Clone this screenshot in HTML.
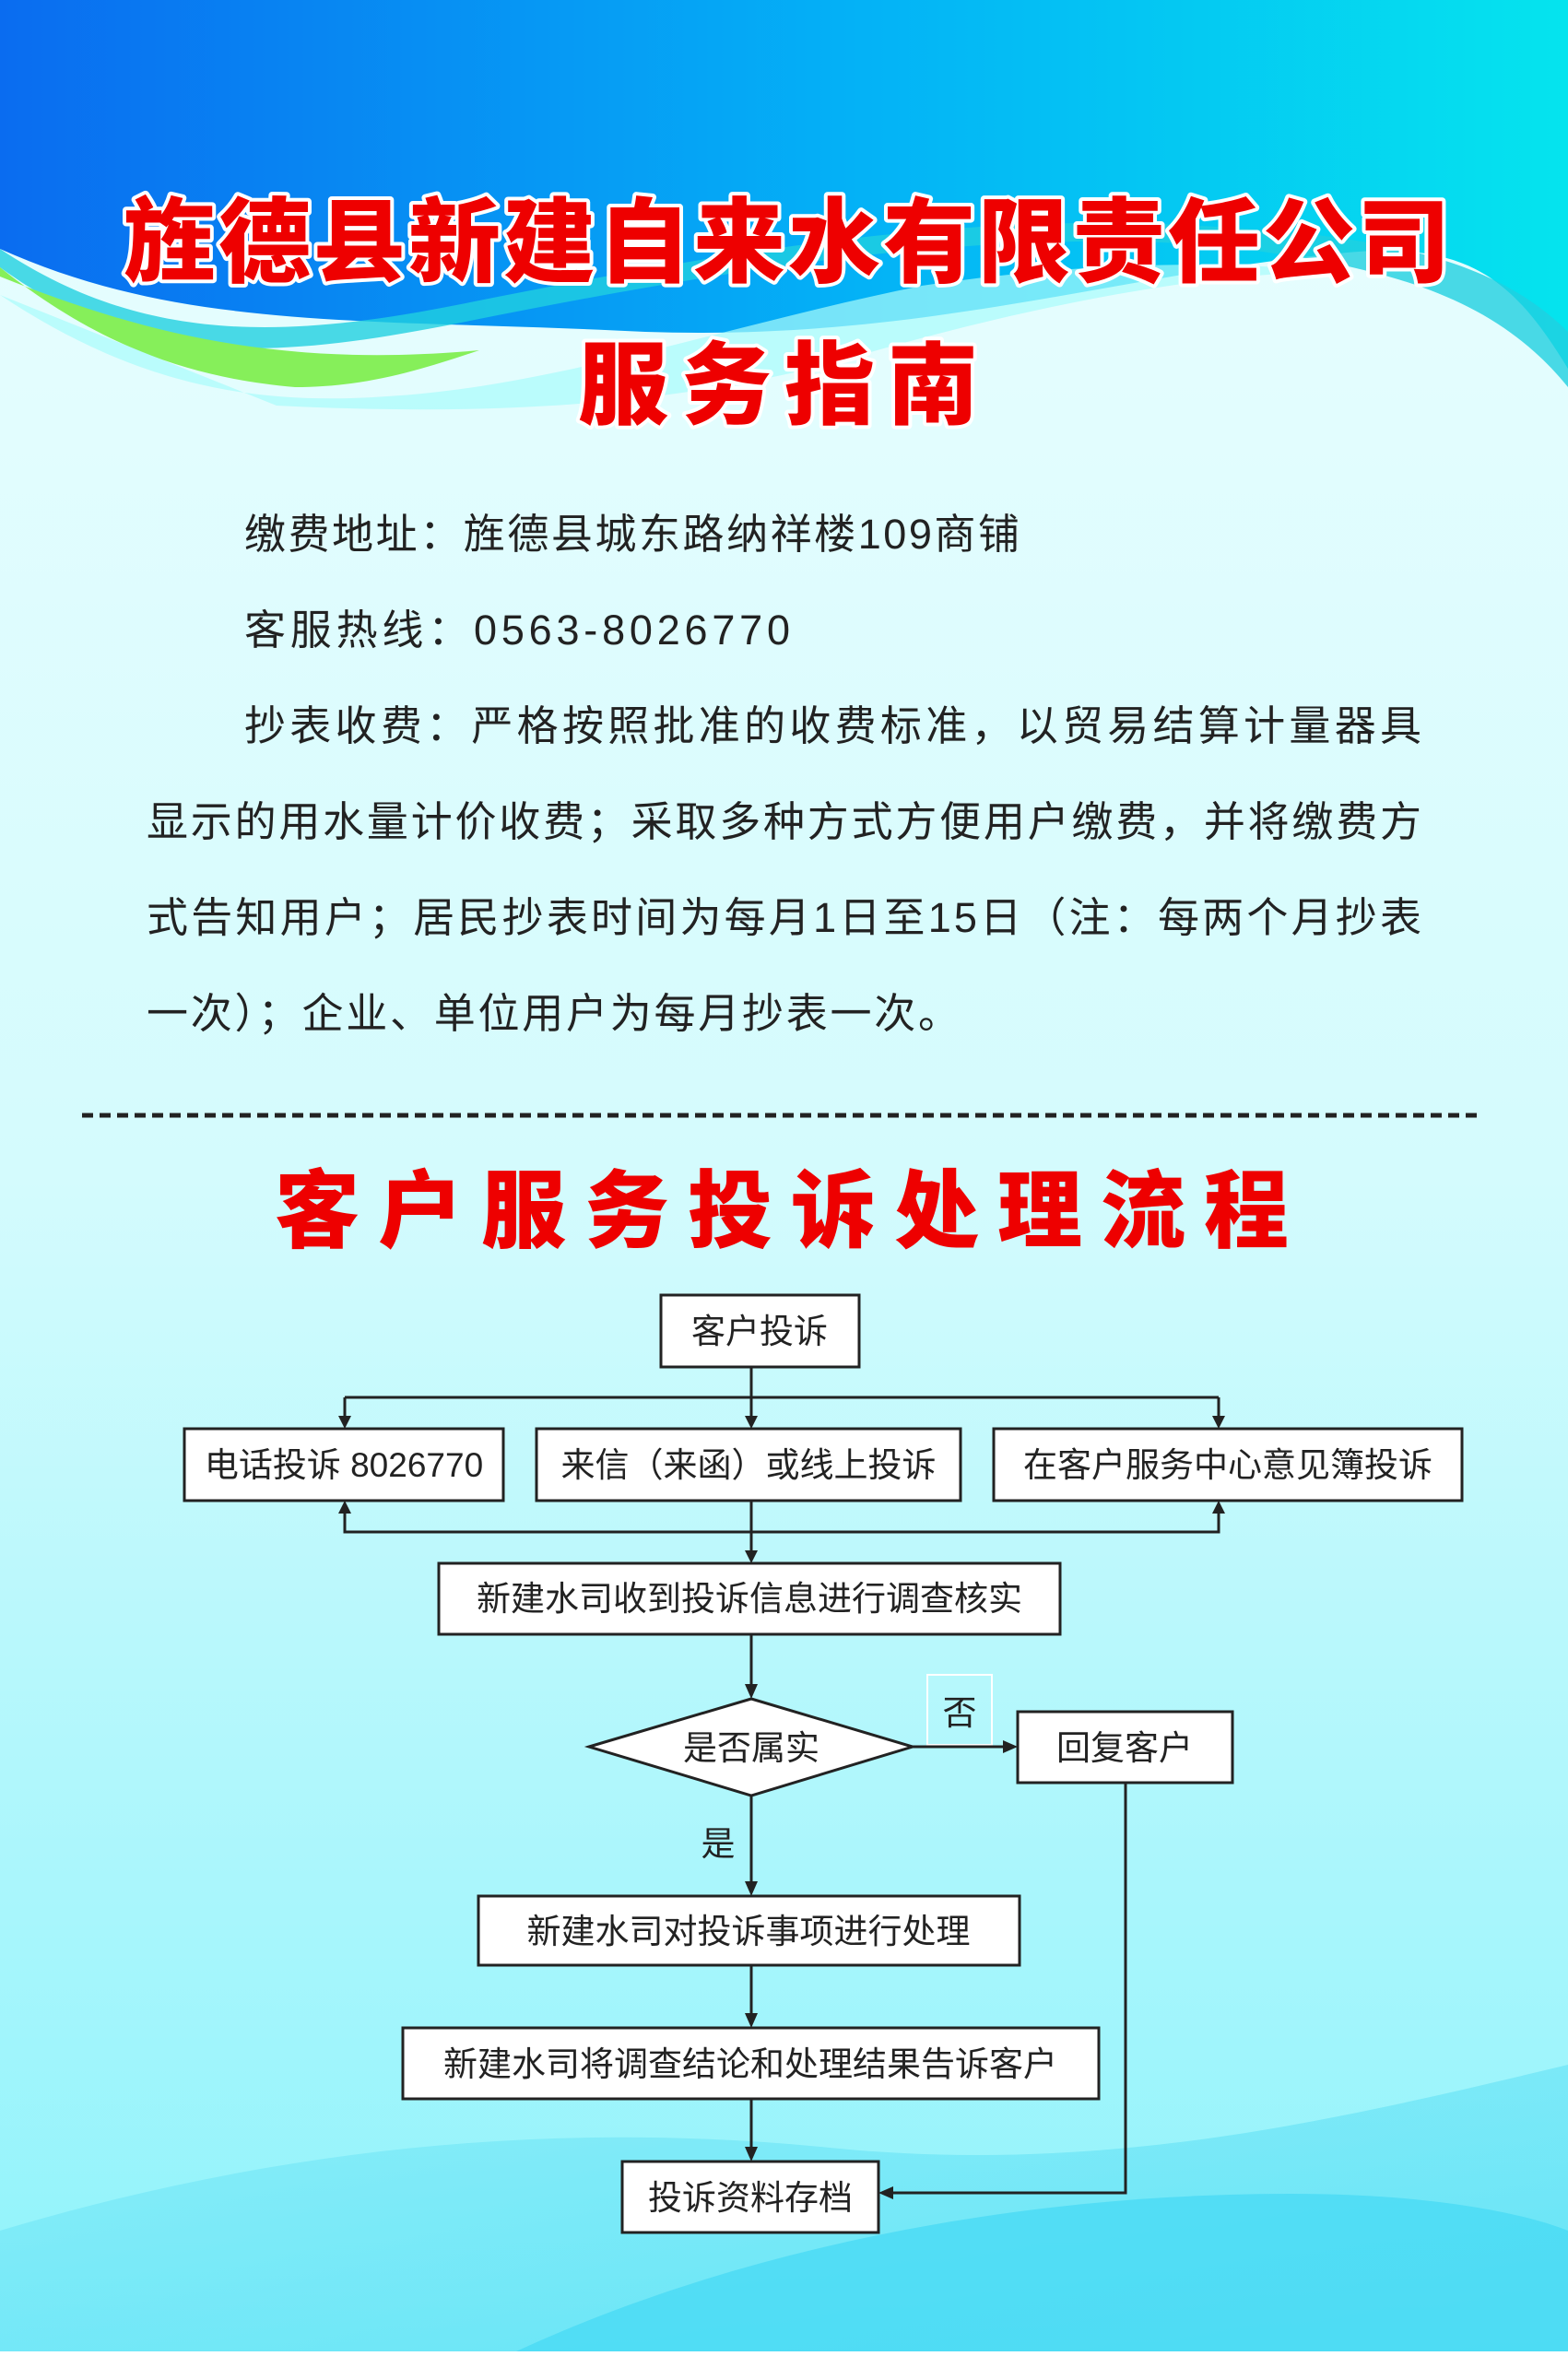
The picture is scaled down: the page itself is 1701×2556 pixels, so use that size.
<!DOCTYPE html>
<html><head><meta charset="utf-8"><style>
html,body{margin:0;padding:0}
body{width:1701px;height:2551px;overflow:hidden}
svg text{font-family:"Liberation Sans","Noto Sans CJK SC",sans-serif}
</style></head><body>
<svg width="1701" height="2551" viewBox="0 0 1701 2551" xmlns="http://www.w3.org/2000/svg">
<defs>
<linearGradient id="bg" x1="0" y1="0" x2="0" y2="1">
<stop offset="0" stop-color="#eafefe"/><stop offset="0.5" stop-color="#d4fbfd"/><stop offset="1" stop-color="#8ef3fb"/>
</linearGradient>
<linearGradient id="top" x1="0" y1="0" x2="1" y2="0">
<stop offset="0" stop-color="#0a6cf0"/><stop offset="0.55" stop-color="#04b2f6"/><stop offset="1" stop-color="#05e4ee"/>
</linearGradient>
<linearGradient id="bot" x1="0" y1="0" x2="1" y2="1">
<stop offset="0" stop-color="#7fe9f7"/><stop offset="1" stop-color="#3ed6f2"/>
</linearGradient>
</defs>
<rect width="1701" height="2551" fill="url(#bg)"/>
<path d="M0 0H1701V400C1640 300 1590 260 1450 275 1200 300 1000 370 700 360 400 345 200 360 0 270Z" fill="url(#top)"/>
<path d="M0 290C150 400 300 390 500 350 800 290 1050 250 1300 265 1500 285 1620 320 1701 420V360C1620 280 1500 255 1300 245 1050 230 800 270 500 330 300 370 150 370 0 270Z" fill="#20cfe0" opacity="0.8"/>
<path d="M0 290C100 370 200 410 320 420 400 420 460 400 520 380 300 400 150 360 0 300Z" fill="#86ef5a"/>
<path d="M0 320C150 420 280 440 420 430 600 420 800 350 1000 310 1200 280 1350 285 1450 295 1300 295 1100 335 900 395 700 445 500 450 300 440 150 410 0 340Z" fill="#a8fbfb" opacity="0.7"/>
<path d="M0 2551V2420C300 2330 600 2300 900 2330 1200 2360 1450 2300 1701 2240V2551Z" fill="url(#bot)" opacity="0.55"/>
<path d="M560 2551C800 2440 1100 2380 1400 2380 1550 2380 1650 2400 1701 2420V2551Z" fill="#45d8f3" opacity="0.7"/>

<g font-weight="900" fill="#ee0000" stroke="#ffffff" stroke-width="8" paint-order="stroke" stroke-linejoin="round">
<text x="855" y="298" font-size="100" text-anchor="middle" letter-spacing="3">旌德县新建自来水有限责任公司</text>
<text x="851" y="452" font-size="98" text-anchor="middle" letter-spacing="14">服务指南</text>
</g>

<g font-size="45" fill="#222" lengthAdjust="spacing">
<text x="265" y="595" textLength="841" lengthAdjust="spacing">缴费地址：旌德县城东路纳祥楼109商铺</text>
<text x="265" y="699" textLength="592" lengthAdjust="spacing">客服热线：0563-8026770</text>
<text x="265" y="803" textLength="1277" lengthAdjust="spacing">抄表收费：严格按照批准的收费标准，以贸易结算计量器具</text>
<text x="159" y="907" textLength="1383" lengthAdjust="spacing">显示的用水量计价收费；采取多种方式方便用户缴费，并将缴费方</text>
<text x="159" y="1011" textLength="1383" lengthAdjust="spacing">式告知用户；居民抄表时间为每月1日至15日（注：每两个月抄表</text>
<text x="159" y="1115" textLength="882" lengthAdjust="spacing">一次）；企业、单位用户为每月抄表一次。</text>
</g>

<line x1="89" y1="1210" x2="1602" y2="1210" stroke="#222" stroke-width="5" stroke-dasharray="12,7"/>

<text x="858" y="1346" font-size="92" font-weight="900" fill="#ee0000" text-anchor="middle" letter-spacing="20">客户服务投诉处理流程</text>

<g transform="translate(0,5)">
<g stroke="#222" stroke-width="3" fill="#fff">
<rect x="717" y="1400" width="215" height="78"/>
<rect x="200" y="1545" width="346" height="78"/>
<rect x="582" y="1545" width="460" height="78"/>
<rect x="1078" y="1545" width="508" height="78"/>
<rect x="476" y="1691" width="674" height="77"/>
<polygon points="639,1890 815,1838 990,1890 815,1943"/>
<rect x="1104" y="1852" width="233" height="77"/>
<rect x="519" y="2052" width="587" height="75"/>
<rect x="437" y="2195" width="755" height="77"/>
<rect x="675" y="2340" width="278" height="77"/>
</g>
<rect x="1006" y="1812" width="70" height="76" fill="none" stroke="#fff" stroke-width="2"/>
<g stroke="#222" stroke-width="3" fill="none">
<path d="M815 1478V1511M374 1511H1322M374 1511V1535M815 1511V1535M1322 1511V1535"/>
<path d="M374 1633V1657H1322V1633M815 1623V1681"/>
<path d="M815 1768V1826M990 1890H1092M815 1943V2040M815 2127V2183M815 2272V2328"/>
<path d="M1221 1929V2374H965"/>
</g>
<g fill="#222">
<polygon points="367,1531 381,1531 374,1545"/>
<polygon points="808,1531 822,1531 815,1545"/>
<polygon points="1315,1531 1329,1531 1322,1545"/>
<polygon points="367,1637 381,1637 374,1623"/>
<polygon points="1315,1637 1329,1637 1322,1623"/>
<polygon points="808,1677 822,1677 815,1691"/>
<polygon points="808,1822 822,1822 815,1838"/>
<polygon points="1088,1883 1088,1897 1104,1890"/>
<polygon points="808,2036 822,2036 815,2052"/>
<polygon points="808,2179 822,2179 815,2195"/>
<polygon points="808,2324 822,2324 815,2340"/>
<polygon points="969,2367 969,2381 953,2374"/>
</g>
<g font-size="37" fill="#222" text-anchor="middle">
<text x="824" y="1452">客户投诉</text>
<text x="373" y="1597">电话投诉 8026770</text>
<text x="812" y="1597">来信（来函）或线上投诉</text>
<text x="1332" y="1597">在客户服务中心意见簿投诉</text>
<text x="813" y="1742">新建水司收到投诉信息进行调查核实</text>
<text x="815" y="1904">是否属实</text>
<text x="1041" y="1866">否</text>
<text x="1220" y="1904">回复客户</text>
<text x="779" y="2008">是</text>
<text x="812" y="2103">新建水司对投诉事项进行处理</text>
<text x="814" y="2247">新建水司将调查结论和处理结果告诉客户</text>
<text x="814" y="2392">投诉资料存档</text>
</g>
</g>
</svg>
</body></html>
